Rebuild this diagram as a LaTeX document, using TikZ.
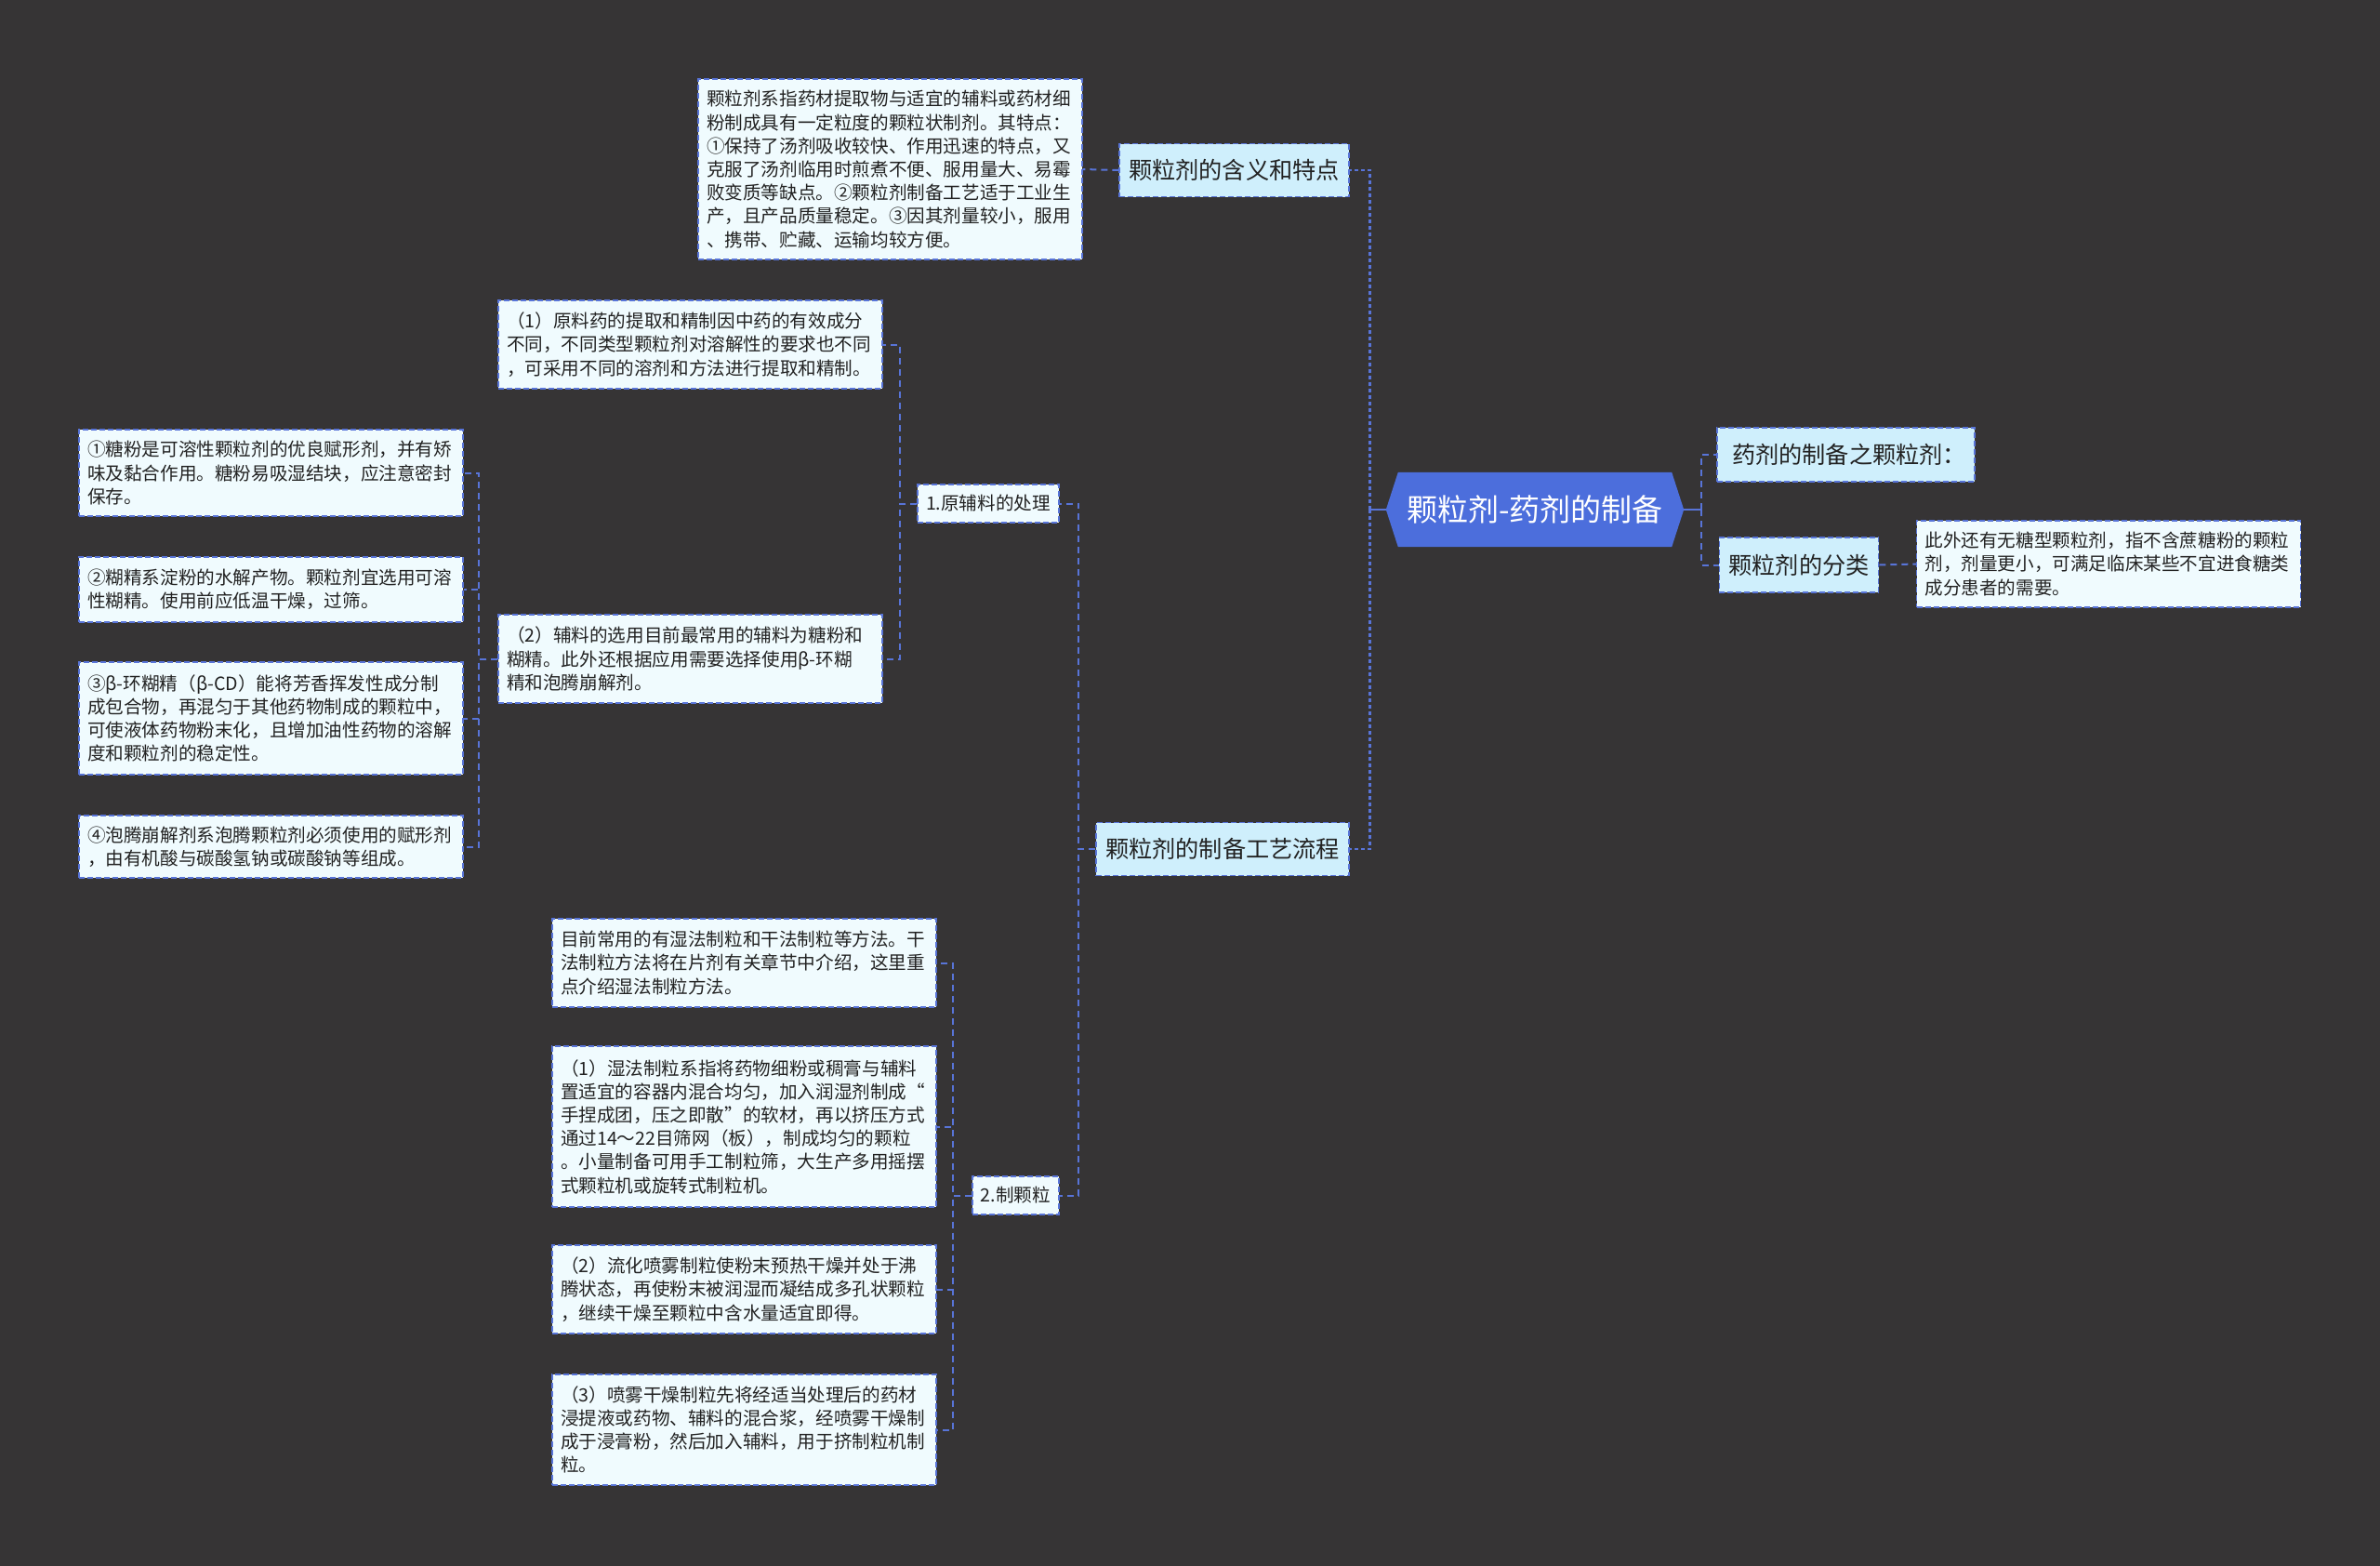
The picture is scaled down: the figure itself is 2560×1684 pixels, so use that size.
\documentclass[tikz,border=0pt]{standalone}
\usepackage{fontspec}
\newfontfamily\cjk{Noto Sans CJK SC}
\usepackage{xcolor}
\usepackage{tikz}
\usetikzlibrary{positioning,backgrounds}

\definecolor{bgcol}{HTML}{363435}
\definecolor{rootblue}{HTML}{4C6EDC}
\definecolor{linkblue}{HTML}{5874D8}
\definecolor{subfill}{HTML}{CFEFFC}
\definecolor{leaffill}{HTML}{F0FBFE}
\definecolor{txt}{HTML}{222222}

\begin{document}
\begin{tikzpicture}[
  x=1pt, y=-1pt,
  rootnode/.style={minimum width=294pt, minimum height=80pt, inner sep=0pt,
    text=white, font=\cjk\fontsize{33}{38}\selectfont},
  topic/.style={draw=linkblue, dash pattern=on 6pt off 3pt, line width=1.6pt,
    fill=subfill, text=txt, minimum height=57pt, inner xsep=10pt,
    font=\cjk\fontsize{25.2}{30}\selectfont},
  leaf/.style={draw=linkblue, dash pattern=on 6pt off 3pt, line width=1.4pt,
    fill=leaffill, text=txt, text width=395pt, inner xsep=9pt, inner ysep=4pt,
    align=left, font=\cjk\fontsize{19.6}{25.2}\selectfont},
  stepbox/.style={draw=linkblue, dash pattern=on 6pt off 3pt, line width=1.4pt,
    fill=leaffill, text=txt, minimum height=41pt, inner xsep=9pt,
    font=\cjk\fontsize{19.6}{24}\selectfont},
  link/.style={draw=linkblue, line width=2pt, dash pattern=on 7pt off 5pt},
  mainlink/.style={draw=linkblue, line width=2.8pt, dash pattern=on 4pt off 3pt}
]
\useasboundingbox (0,0) rectangle (2560,1684);

% centre topic
\node[rootnode] (root) at (1651,548) {颗粒剂-药剂的制备};
\begin{scope}[on background layer]
\fill[bgcol] (0,0) rectangle (2560,1684);
\fill[rootblue] (root.north west) -- (root.north east) -- ([xshift=13pt]root.east)
  -- (root.south east) -- (root.south west) -- ([xshift=-13pt]root.west) -- cycle;
\end{scope}

% left side
\node[topic] (meaning) at (1327.5,183) {颗粒剂的含义和特点};
\node[leaf, minimum height=194pt] (meaningtxt) at (957.5,182) {颗粒剂系指药材提取物与适宜的辅料或药材细\\
粉制成具有一定粒度的颗粒状制剂。其特点：\\
①保持了汤剂吸收较快、作用迅速的特点，又\\
克服了汤剂临用时煎煮不便、服用量大、易霉\\
败变质等缺点。②颗粒剂制备工艺适于工业生\\
产，且产品质量稳定。③因其剂量较小，服用\\
、携带、贮藏、运输均较方便。};

\node[topic] (process) at (1315,913) {颗粒剂的制备工艺流程};

\node[stepbox] (raw) at (1063,541.5) {1.原辅料的处理};
\node[leaf, minimum height=95pt] (raw1) at (742.5,370.5) {（1）原料药的提取和精制因中药的有效成分\\
不同，不同类型颗粒剂对溶解性的要求也不同\\
，可采用不同的溶剂和方法进行提取和精制。};
\node[leaf, minimum height=95pt] (raw2) at (742.5,708.5) {（2）辅料的选用目前最常用的辅料为糖粉和\\
糊精。此外还根据应用需要选择使用β-环糊\\
精和泡腾崩解剂。};

\node[leaf, minimum height=93pt] (aux1) at (291.5,508.5) {①糖粉是可溶性颗粒剂的优良赋形剂，并有矫\\
味及黏合作用。糖粉易吸湿结块，应注意密封\\
保存。};
\node[leaf, minimum height=70pt] (aux2) at (291.5,634) {②糊精系淀粉的水解产物。颗粒剂宜选用可溶\\
性糊精。使用前应低温干燥，过筛。};
\node[leaf, minimum height=121pt] (aux3) at (291.5,772.5) {③β-环糊精（β-CD）能将芳香挥发性成分制\\
成包合物，再混匀于其他药物制成的颗粒中，\\
可使液体药物粉末化，且增加油性药物的溶解\\
度和颗粒剂的稳定性。};
\node[leaf, minimum height=67pt] (aux4) at (291.5,910.5) {④泡腾崩解剂系泡腾颗粒剂必须使用的赋形剂\\
，由有机酸与碳酸氢钠或碳酸钠等组成。};

\node[stepbox] (gran) at (1092.5,1285.5) {2.制颗粒};
\node[leaf, minimum height=95pt] (gran0) at (800.5,1035.5) {目前常用的有湿法制粒和干法制粒等方法。干\\
法制粒方法将在片剂有关章节中介绍，这里重\\
点介绍湿法制粒方法。};
\node[leaf, minimum height=173pt] (gran1) at (800.5,1211.5) {（1）湿法制粒系指将药物细粉或稠膏与辅料\\
置适宜的容器内混合均匀，加入润湿剂制成“\\
手捏成团，压之即散”的软材，再以挤压方式\\
通过14～22目筛网（板），制成均匀的颗粒\\
。小量制备可用手工制粒筛，大生产多用摇摆\\
式颗粒机或旋转式制粒机。};
\node[leaf, minimum height=95pt] (gran2) at (800.5,1386.5) {（2）流化喷雾制粒使粉末预热干燥并处于沸\\
腾状态，再使粉末被润湿而凝结成多孔状颗粒\\
，继续干燥至颗粒中含水量适宜即得。};
\node[leaf, minimum height=119pt] (gran3) at (800.5,1537.5) {（3）喷雾干燥制粒先将经适当处理后的药材\\
浸提液或药物、辅料的混合浆，经喷雾干燥制\\
成于浸膏粉，然后加入辅料，用于挤制粒机制\\
粒。};

% right side
\node[topic, minimum height=58pt, minimum width=277pt, align=left, text width=245pt] (title) at (1985.5,489) {药剂的制备之颗粒剂：};
\node[topic, minimum height=59pt] (kinds) at (1935,607.5) {颗粒剂的分类};
\node[leaf, minimum height=93pt] (kindstxt) at (2268,606.5) {此外还有无糖型颗粒剂，指不含蔗糖粉的颗粒\\
剂，剂量更小，可满足临床某些不宜进食糖类\\
成分患者的需要。};

% connectors
\draw[linkblue, line width=2.8pt] ([xshift=-13pt]root.west) -- ++(-17,0) coordinate (lspine);
\draw[mainlink] (lspine) |- (meaning.east);
\draw[mainlink] (lspine) |- (process.east);
\draw[linkblue, line width=2.8pt] ([xshift=13pt]root.east) -- ++(19,0) coordinate (rspine);
\draw[link] (rspine) |- (title.west);
\draw[link] (rspine) |- (kinds.west);
\draw[link] (kinds.east) -- (kindstxt.west);
\draw[link] (meaning.west) -- (meaningtxt.east);

\draw[link] (process.west) -- ++(-18,0) |- (raw.east);
\draw[link] (process.west) -- ++(-18,0) |- (gran.east);

\draw[link] (raw.west) -- ++(-18,0) |- (raw1.east);
\draw[link] (raw.west) -- ++(-18,0) |- (raw2.east);

\foreach \n in {aux1,aux2,aux3,aux4}
  \draw[link] (raw2.west) -- ++(-20,0) |- (\n.east);

\foreach \n in {gran0,gran1,gran2,gran3}
  \draw[link] (gran.west) -- ++(-20,0) |- (\n.east);
\end{tikzpicture}
\end{document}
